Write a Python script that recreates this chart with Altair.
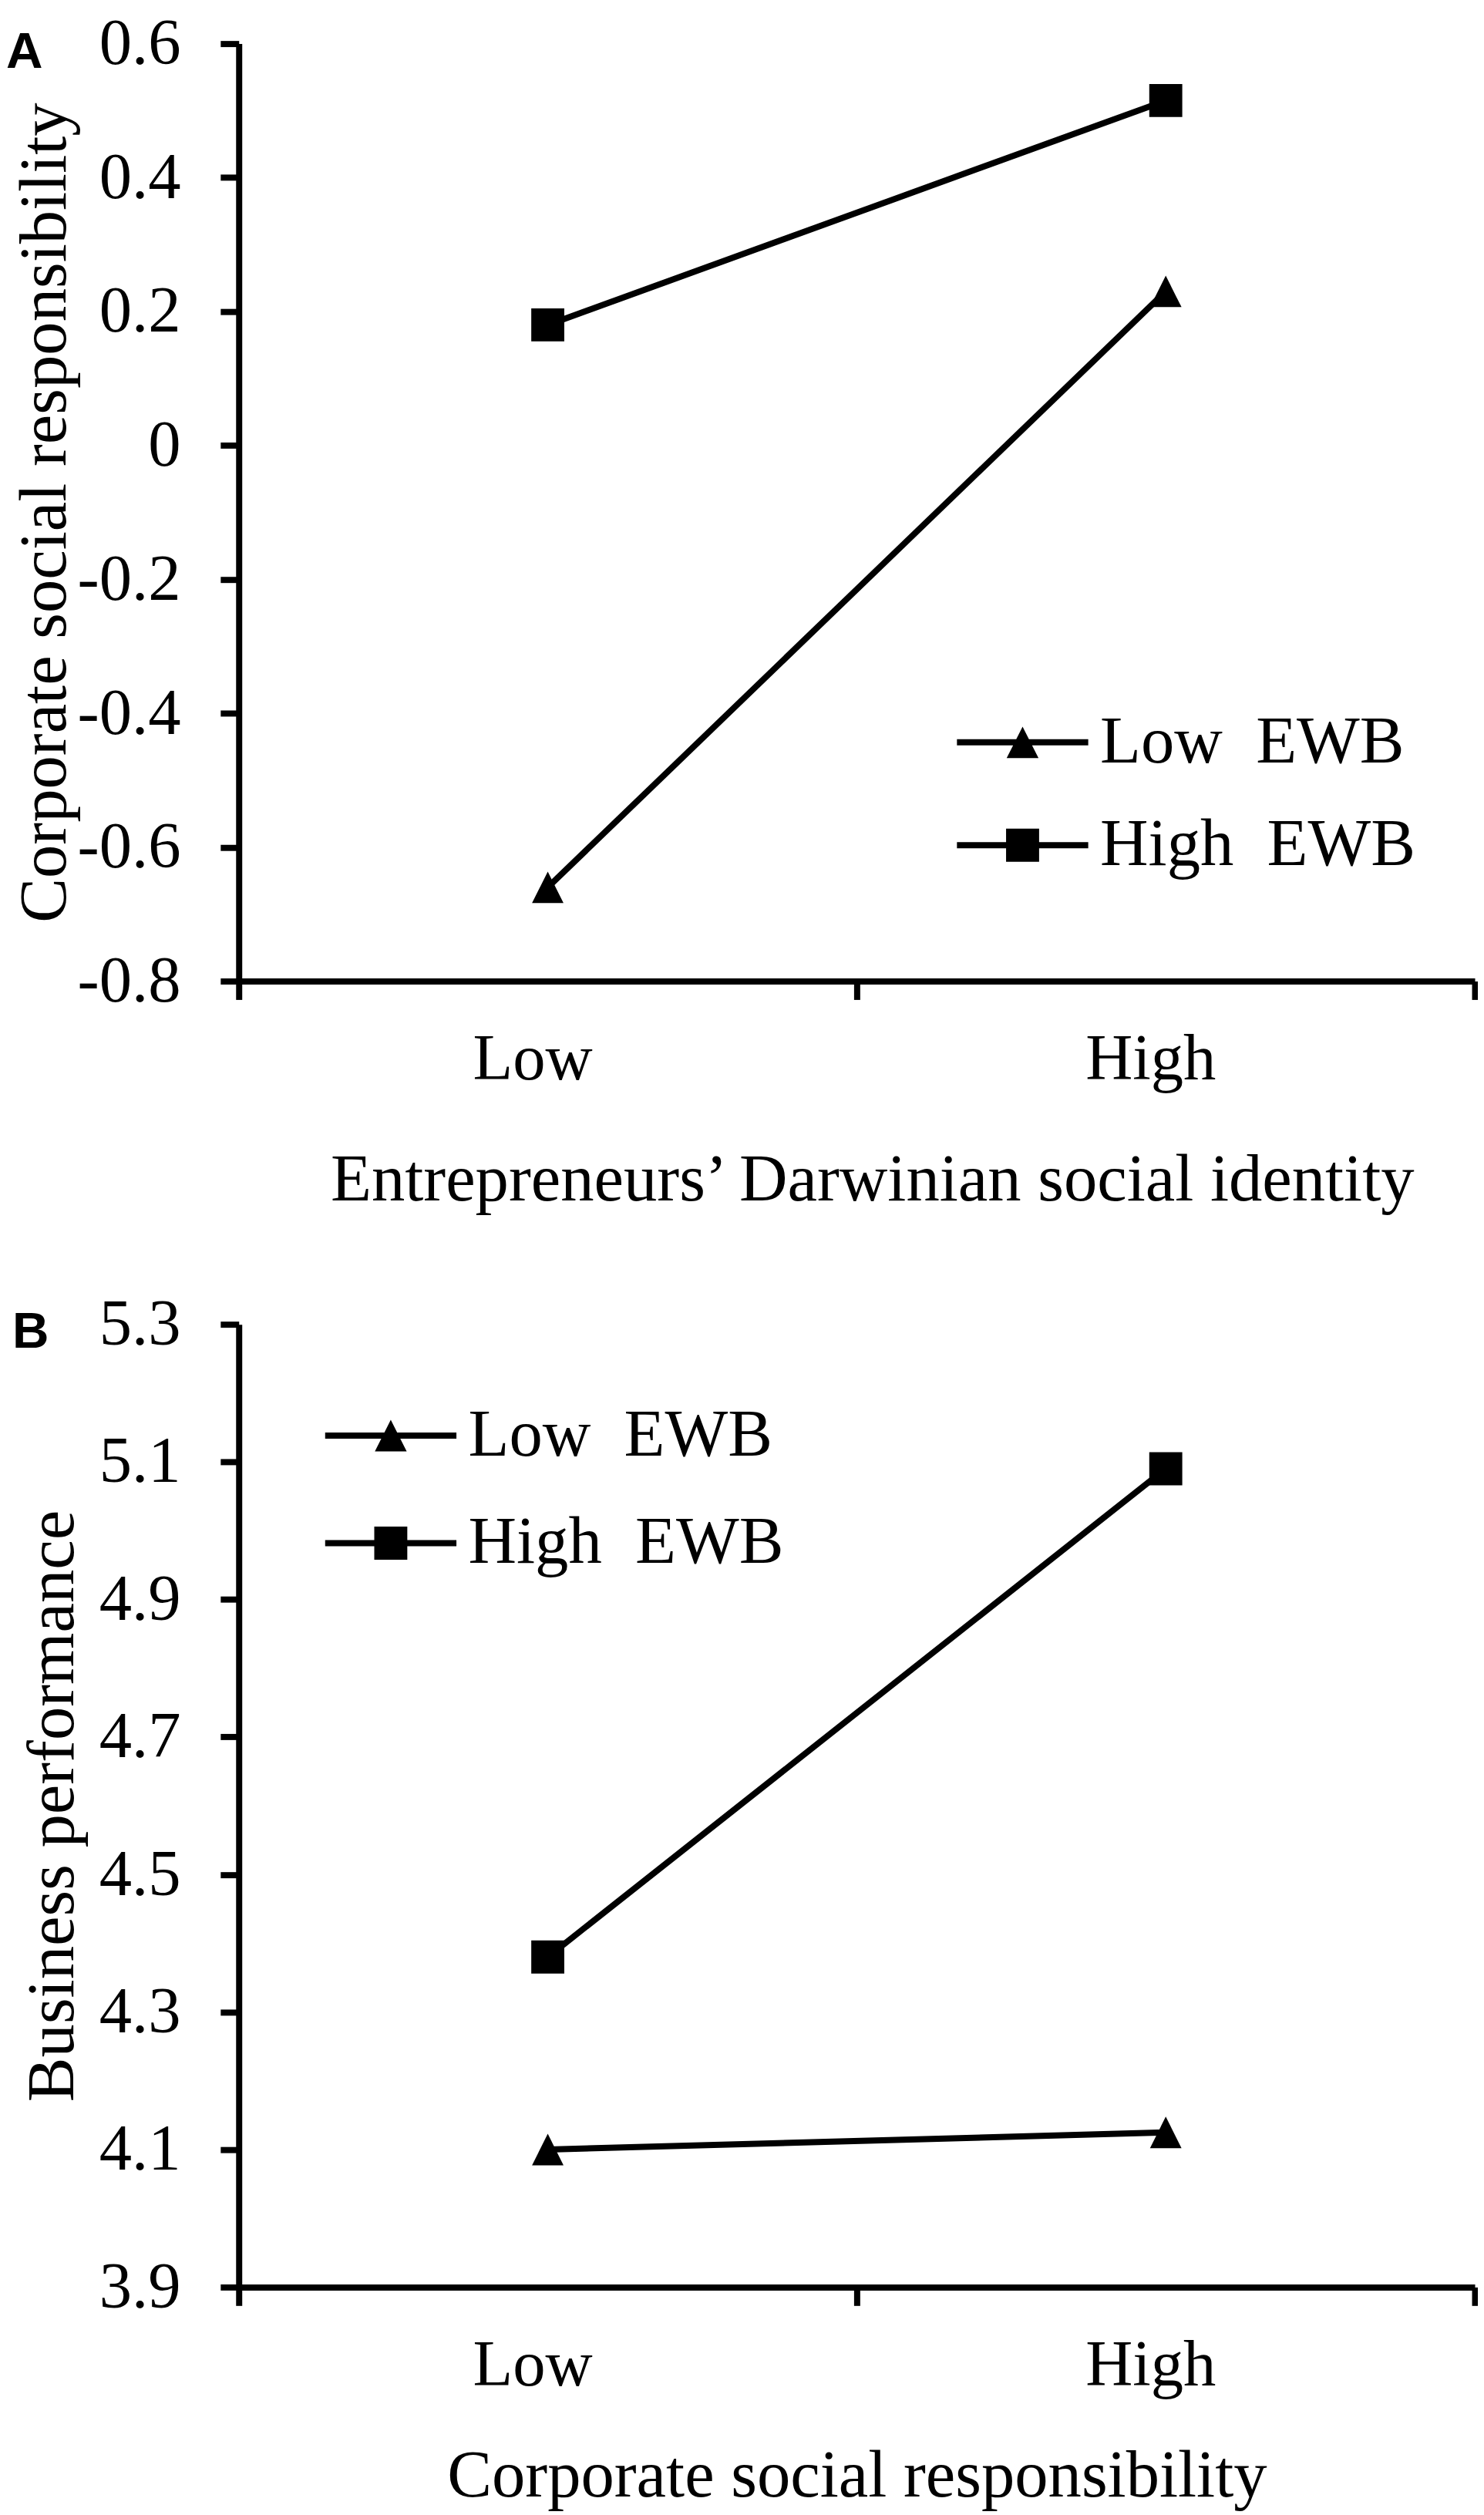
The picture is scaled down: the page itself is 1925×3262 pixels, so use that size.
import altair as alt
import pandas as pd

# ---- data ----
levels = ["Low", "High"]
series = ["Low EWB", "High EWB"]

a_low_ewb = [-0.66, 0.23]
a_high_ewb = [0.18, 0.515]
a_ticks = [-0.8, -0.6, -0.4, -0.2, 0, 0.2, 0.4, 0.6]

b_low_ewb = [4.10, 4.125]
b_high_ewb = [4.38, 5.09]
b_ticks = [3.9, 4.1, 4.3, 4.5, 4.7, 4.9, 5.1, 5.3]

SERIF = "Liberation Serif"
SANS = "Liberation Sans"
FS = 85      # tick labels
TFS = 87     # axis titles and legend labels
LW = 8

# custom marker paths (unit box [-1,1])
TRI = "M0,-1L1,1L-1,1Z"
# legend glyphs: line segment drawn as thin filled bar plus marker
LEG_TRI = ("M-1.9,-0.089L1.9,-0.089L1.9,0.089L-1.9,0.089Z"
           "M0,-0.456L0.461,0.456L-0.461,0.456Z")
LEG_SQ = ("M-1.9,-0.089L1.9,-0.089L1.9,0.089L-1.9,0.089Z"
          "M-0.478,-0.478L0.478,-0.478L0.478,0.478L-0.478,0.478Z")


def make_df(low_vals, high_vals):
    rows = []
    for lv, v in zip(levels, low_vals):
        rows.append({"x": lv, "v": v, "series": series[0]})
    for lv, v in zip(levels, high_vals):
        rows.append({"x": lv, "v": v, "series": series[1]})
    return pd.DataFrame(rows)


def panel(df, ticks, ytitle, xtitle, letter, w, h, label_expr,
          ytitle_x, xtitle_x, xtitle_y, leg_x, leg_y, leg_row,
          letter_dx, letter_dy):
    x_enc = alt.X(
        "x:N",
        sort=levels,
        scale=alt.Scale(domain=levels, paddingInner=0, paddingOuter=0),
        axis=alt.Axis(
            title=xtitle, tickBand="extent", labelAngle=0,
            labelFont=SERIF, labelFontSize=FS, labelColor="black",
            labelBaseline="alphabetic", labelPadding=104, labelOffset=-20,
            tickSize=24, tickWidth=LW, tickColor="black",
            domainWidth=LW, domainColor="black", grid=False,
            titleFont=SERIF, titleFontSize=TFS, titleFontWeight="normal",
            titleColor="black", titleBaseline="alphabetic",
            titleX=xtitle_x, titleY=xtitle_y, titleAlign="center",
        ),
    )
    y_enc = alt.Y(
        "v:Q",
        scale=alt.Scale(domain=[ticks[0], ticks[-1]], nice=False, zero=False),
        axis=alt.Axis(
            title=ytitle, values=ticks, labelExpr=label_expr,
            labelFont=SERIF, labelFontSize=FS, labelColor="black",
            labelPadding=52, tickSize=24, tickWidth=LW, tickColor="black",
            domainWidth=LW, domainColor="black", grid=False,
            titleFont=SERIF, titleFontSize=TFS, titleFontWeight="normal",
            titleColor="black", titleBaseline="alphabetic",
            titleX=ytitle_x, titleY=h / 2, titleAlign="center", titleAngle=270,
        ),
    )
    base = alt.Chart(df)
    lines = base.mark_line(color="black", strokeWidth=LW).encode(
        x=x_enc, y=y_enc, detail="series:N"
    )
    tris = base.transform_filter(alt.datum.series == series[0]).mark_point(
        shape=TRI, filled=True, color="black", opacity=1, size=1681
    ).encode(x=x_enc, y=y_enc)
    sqs = base.transform_filter(alt.datum.series == series[1]).mark_point(
        shape="square", filled=True, color="black", opacity=1, size=1849
    ).encode(x=x_enc, y=y_enc)
    leg = base.transform_filter("datum.v > 1e9").mark_point(
        filled=True, color="black", opacity=1
    ).encode(
        x=x_enc, y=y_enc,
        shape=alt.Shape(
            "series:N",
            scale=alt.Scale(domain=series, range=[LEG_TRI, LEG_SQ]),
            legend=alt.Legend(
                title=None, orient="none", legendX=leg_x, legendY=leg_y,
                symbolSize=8100, symbolFillColor="black", symbolStrokeWidth=0,
                symbolOpacity=1, labelFont=SERIF, labelFontSize=TFS,
                labelColor="black", labelLimit=0, labelOffset=56,
                rowPadding=leg_row, padding=0,
                labelExpr="replace(datum.label, ' ', '\u00a0 ')",
            ),
        ),
    )
    return alt.layer(lines, tris, sqs, leg).properties(
        width=w, height=h,
        title=alt.TitleParams(
            letter, anchor="start", frame="group", font=SANS,
            fontWeight="bold", fontSize=66, color="black",
            baseline="alphabetic", offset=0, dx=letter_dx, dy=letter_dy,
        ),
    )


df_a = make_df(a_low_ewb, a_high_ewb)
df_b = make_df(b_low_ewb, b_high_ewb)

lab_a = "datum.value == 0 ? '0' : (datum.value < 0 ? '-' : '') + format(abs(datum.value), '.1f')"
lab_b = "format(datum.value, '.1f')"

chart_a = panel(df_a, a_ticks, "Corporate social responsibility",
                "Entrepreneurs\u2019 Darwinian social identity", "A",
                1610, 1221, lab_a, -226, 825, 285, 976, 865, 46, -303, 140)
chart_b = panel(df_b, b_ticks, "Business performance",
                "Corporate social responsibility", "B",
                1610, 1254, lab_b, -216, 805, 272, 153, 100, 52, -295, 138)

chart = alt.vconcat(chart_a, chart_b, spacing=447, bounds="flush").resolve_scale(
    shape="independent"
).resolve_legend(shape="independent").properties(
    padding=0, background="white"
).configure_view(stroke=None)

chart.save("out.html", embed_options={"renderer": "svg", "actions": False})
